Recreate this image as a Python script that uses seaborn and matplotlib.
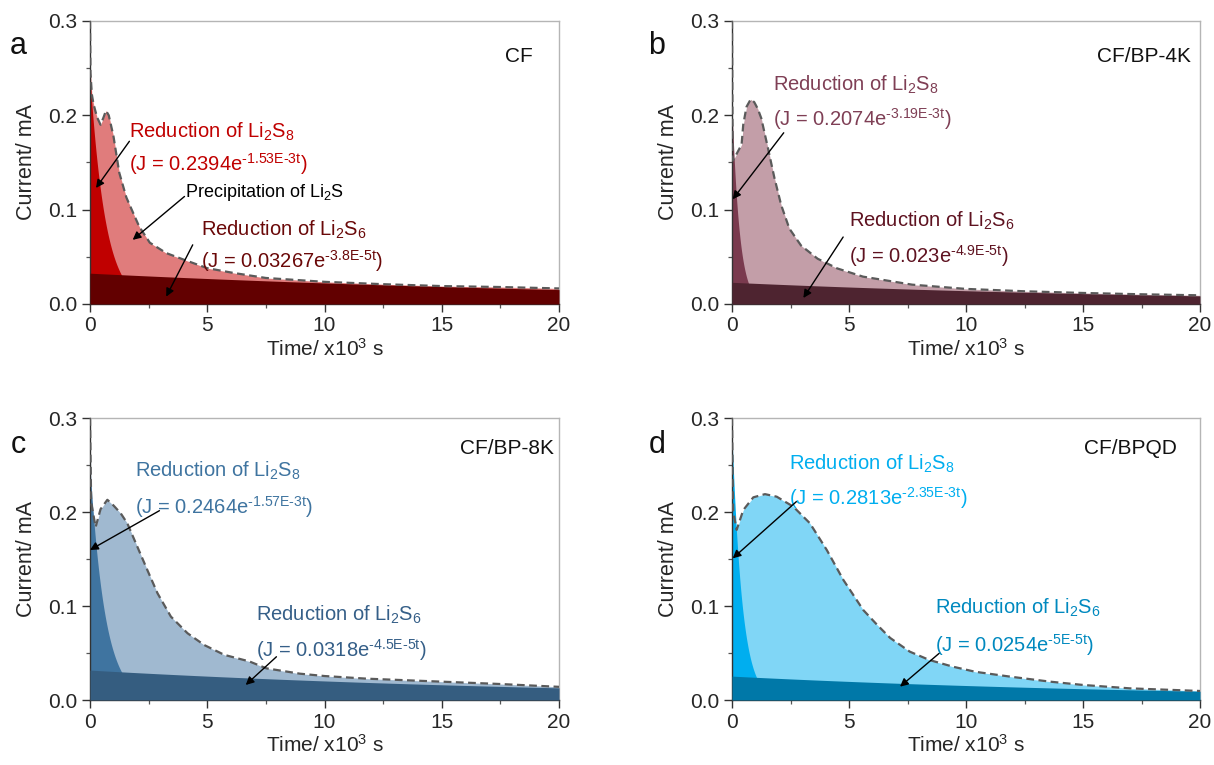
import numpy as np
import pandas as pd
import matplotlib
matplotlib.use("Agg")
import matplotlib.pyplot as plt
import seaborn as sns

sns.set_theme(style="ticks")
plt.rcParams["font.family"] = ["Liberation Sans", "DejaVu Sans"]
plt.rcParams["mathtext.fontset"] = "custom"
plt.rcParams["mathtext.rm"] = "Liberation Sans"
plt.rcParams["mathtext.it"] = "Liberation Sans"
plt.rcParams["mathtext.default"] = "regular"

# ---- data -------------------------------------------------------------
samples = ["CF", "CF/BP-4K", "CF/BP-8K", "CF/BPQD"]
letters = ["a", "b", "c", "d"]

# measured potentiostatic current (time in 10^3 s, current in mA)
t_cf = [0, 0.02, 0.08, 0.15, 0.3, 0.45, 0.58, 0.68, 0.8, 1.0, 1.25, 1.55, 1.85, 2.1,
        2.55, 3.25, 4.0, 5.0, 6.1, 7.5, 10, 12.5, 15, 17.5, 20]
i_cf = [0.300, 0.245, 0.222, 0.212, 0.198, 0.190, 0.198, 0.205, 0.200, 0.178, 0.139,
        0.113, 0.096, 0.082, 0.065, 0.054, 0.047, 0.038, 0.033, 0.0276, 0.0235, 0.021,
        0.019, 0.018, 0.0165]

t_4k = [0, 0.03, 0.13, 0.41, 0.48, 0.62, 0.80, 0.95, 1.1, 1.25, 1.53, 1.81, 2.1, 2.45,
        2.95, 3.66, 4.5, 5.6, 7.7, 10, 12.5, 15, 17.5, 20]
i_4k = [0.300, 0.152, 0.156, 0.169, 0.190, 0.209, 0.217, 0.214, 0.207, 0.197, 0.166,
        0.134, 0.105, 0.080, 0.062, 0.048, 0.0377, 0.029, 0.0205, 0.016, 0.0135, 0.0117,
        0.0103, 0.0092]

t_8k = [0, 0.05, 0.24, 0.45, 0.74, 1.0, 1.31, 1.59, 2.02, 2.45, 2.88, 3.45, 4.16, 4.87,
        5.73, 6.8, 7.52, 8.95, 10, 11.8, 15, 17.5, 20]
i_8k = [0.300, 0.210, 0.184, 0.203, 0.213, 0.207, 0.1986, 0.188, 0.163, 0.138, 0.1135,
        0.0887, 0.071, 0.0585, 0.048, 0.041, 0.0337, 0.028, 0.0255, 0.0227, 0.0195,
        0.017, 0.014]

t_qd = [0, 0.05, 0.2, 0.48, 0.91, 1.41, 1.91, 2.62, 3.33, 4.05, 4.76, 5.61, 6.2, 6.76,
        7.6, 8.43, 9.43, 10.4, 11.9, 13.6, 15, 17, 20]
i_qd = [0.300, 0.200, 0.181, 0.202, 0.2156, 0.219, 0.2163, 0.2057, 0.188, 0.1596,
        0.1277, 0.0957, 0.080, 0.066, 0.0514, 0.0426, 0.0355, 0.030, 0.0248, 0.0195,
        0.016, 0.0124, 0.0096]

times = [t_cf, t_4k, t_8k, t_qd]
currents = [i_cf, i_4k, i_8k, i_qd]

# exponential fits J = A*exp(-k t), t in s
s8_amp = [0.2394, 0.2074, 0.2464, 0.2813]
s8_rate = [1.53e-3, 3.19e-3, 1.57e-3, 2.35e-3]
s8_rate_txt = ["-1.53E-3t", "-3.19E-3t", "-1.57E-3t", "-2.35E-3t"]
s6_amp = [0.03267, 0.023, 0.0318, 0.0254]
s6_rate = [3.8e-5, 4.9e-5, 4.5e-5, 5e-5]
s6_rate_txt = ["-3.8E-5t", "-4.9E-5t", "-4.5E-5t", "-5E-5t"]

# ---- styling ----------------------------------------------------------
light_fill = ["#E07C7C", "#C39EA8", "#A0B9D0", "#80D6F6"]
s8_fill = ["#C00000", "#7A3A4E", "#3F74A0", "#00AEEF"]
s6_fill = ["#620000", "#4E2430", "#355D80", "#0078A8"]
s8_text = ["#C00000", "#7F3F55", "#3F74A0", "#00AEEF"]
s6_text = ["#6A0808", "#5E1220", "#355F88", "#0089BF"]

# label placement (data coordinates)
s8_lab = [(1.68, 0.182, 0.148), (1.76, 0.232, 0.196), (1.94, 0.2436, 0.2057), (2.42, 0.251, 0.2145)]
s6_lab = [(4.74, 0.0787, 0.045), (5.0, 0.0877, 0.0506), (7.09, 0.0904, 0.0532), (8.68, 0.0975, 0.0585)]
s8_arrow = [((1.68, 0.1725), (0.256, 0.123)), ((2.21, 0.1815), (0.03, 0.111)),
            ((2.96, 0.2014), (0.0, 0.1596)), ((2.75, 0.211), (0.03, 0.1507))]
s6_arrow = [((4.38, 0.0627), (3.25, 0.0078)), ((4.75, 0.071), (3.05, 0.0064)),
            ((7.95, 0.046), (6.64, 0.016)), ((8.85, 0.0496), (7.18, 0.0142))]
name_pos = [(18.9, 0.2625), (19.6, 0.2625), (19.8, 0.268), (19.0, 0.268)]

W, H = 1214, 765
fig = plt.figure(figsize=(W / 100, H / 100), dpi=100)

boxes = [(90, 21, 559, 304), (732, 21, 1200, 304), (90, 418, 559, 700), (732, 418, 1200, 700)]
letter_xy = [(18, 46), (657, 46), (18, 445), (657, 445)]

grid = np.linspace(0, 20, 2001)
ann_fs = 14.5

for k in range(4):
    x0, y0, x1, y1 = boxes[k]
    ax = fig.add_axes([x0 / W, 1 - y1 / H, (x1 - x0) / W, (y1 - y0) / H])

    t = np.asarray(times[k], float)
    cur = np.asarray(currents[k], float)
    ax.fill_between(t, 0, cur, color=light_fill[k], lw=0, zorder=1)
    s8 = s8_amp[k] * np.exp(-s8_rate[k] * 1e3 * grid)
    ax.fill_between(grid, 0, s8, color=s8_fill[k], lw=0, zorder=2)
    s6 = s6_amp[k] * np.exp(-s6_rate[k] * 1e3 * grid)
    ax.fill_between(grid, 0, s6, color=s6_fill[k], lw=0, zorder=3)

    df = pd.DataFrame({"t": t, "i": cur})
    sns.lineplot(data=df, x="t", y="i", ax=ax, color="#5a5a5a", lw=1.6,
                 linestyle=(0, (3.5, 2.0)), zorder=4)

    ax.set_xlim(0, 20)
    ax.set_ylim(0, 0.3)
    ax.set_xticks([0, 5, 10, 15, 20])
    ax.set_xticks([2.5, 7.5, 12.5, 17.5], minor=True)
    ax.set_yticks([0.0, 0.1, 0.2, 0.3])
    ax.set_yticklabels(["0.0", "0.1", "0.2", "0.3"])
    ax.set_yticks([0.05, 0.15, 0.25], minor=True)
    ax.tick_params(which="major", direction="out", length=6, width=1.0,
                   color="#333333", labelsize=15, pad=3)
    ax.tick_params(which="minor", direction="out", length=3, width=0.9, color="#555555")
    for side in ("left", "bottom"):
        ax.spines[side].set_color("#333333")
        ax.spines[side].set_linewidth(1.0)
    for side in ("top", "right"):
        ax.spines[side].set_visible(True)
        ax.spines[side].set_color("#b5b5b5")
        ax.spines[side].set_linewidth(1.0)
    ax.set_xlabel("Time/ x10$^{3}$ s", fontsize=15, labelpad=2)
    ax.set_ylabel("Current/ mA", fontsize=15.5, labelpad=8)

    # sample name
    ax.text(name_pos[k][0], name_pos[k][1], samples[k], ha="right", va="center",
            fontsize=15, color="#111111", zorder=6)

    # Li2S8 annotation
    lx, ly1, ly2 = s8_lab[k]
    ax.text(lx, ly1, "Reduction of Li$_{2}$S$_{8}$", color=s8_text[k], fontsize=ann_fs,
            ha="left", va="center", zorder=6)
    ax.text(lx, ly2, "(J = %se$^{\\text{%s}}$)" % (f"{s8_amp[k]:g}", s8_rate_txt[k]),
            color=s8_text[k], fontsize=ann_fs, ha="left", va="center", zorder=6)
    (ax0, ay0), (ax1, ay1) = s8_arrow[k]
    ax.annotate("", xy=(ax1, ay1), xytext=(ax0, ay0), zorder=7,
                arrowprops=dict(arrowstyle="-|>", color="black", lw=1.0,
                                mutation_scale=12, shrinkA=0, shrinkB=0))

    # Li2S6 annotation
    lx, ly1, ly2 = s6_lab[k]
    ax.text(lx, ly1, "Reduction of Li$_{2}$S$_{6}$", color=s6_text[k], fontsize=ann_fs,
            ha="left", va="center", zorder=6)
    ax.text(lx, ly2, "(J = %se$^{\\text{%s}}$)" % (f"{s6_amp[k]:g}", s6_rate_txt[k]),
            color=s6_text[k], fontsize=ann_fs, ha="left", va="center", zorder=6)
    (ax0, ay0), (ax1, ay1) = s6_arrow[k]
    ax.annotate("", xy=(ax1, ay1), xytext=(ax0, ay0), zorder=7,
                arrowprops=dict(arrowstyle="-|>", color="black", lw=1.0,
                                mutation_scale=12, shrinkA=0, shrinkB=0))

    if k == 0:
        ax.text(4.03, 0.118, "Precipitation of Li$_{2}$S", color="black", fontsize=13,
                ha="left", va="center", zorder=6)
        ax.annotate("", xy=(1.82, 0.068), xytext=(4.03, 0.114), zorder=7,
                    arrowprops=dict(arrowstyle="-|>", color="black", lw=1.0,
                                    mutation_scale=12, shrinkA=0, shrinkB=0))

    fig.text(letter_xy[k][0] / W, 1 - letter_xy[k][1] / H, letters[k], fontsize=22,
             ha="center", va="center", color="#111111")

fig.savefig("out.png", dpi=100)
